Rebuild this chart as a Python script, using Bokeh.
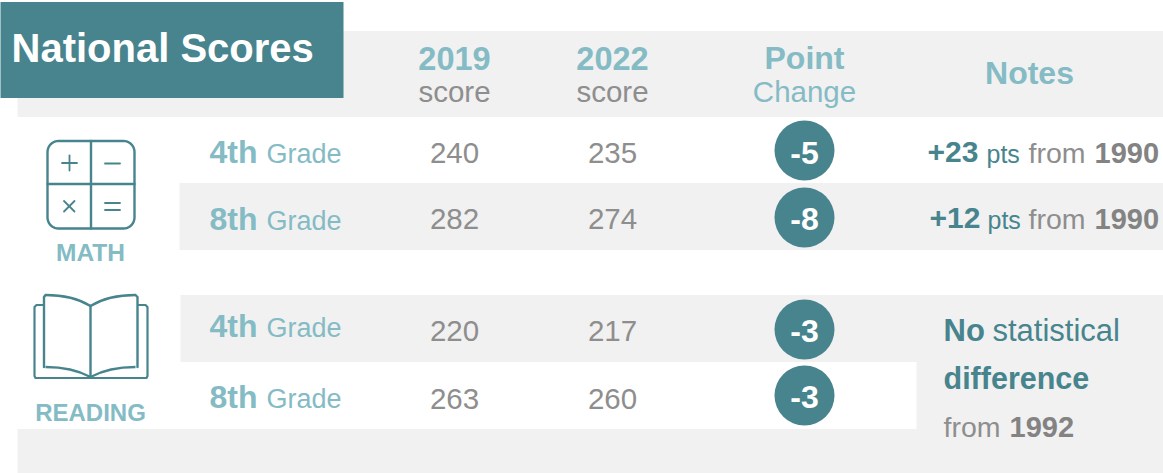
from bokeh.plotting import figure
from bokeh.models import Range1d
from bokeh.core.properties import value
from bokeh.embed import file_html
from bokeh.resources import INLINE
import numpy as np

# ---- data ----
subjects = ["MATH", "READING"]
grades = ["4th", "8th", "4th", "8th"]
score_2019 = [240, 282, 220, 263]
score_2022 = [235, 274, 217, 260]
point_change = [-5, -8, -3, -3]
notes_gain = ["+23", "+12"]
notes_year = ["1990", "1990"]
title = "National Scores"

# ---- layout ----
TEAL, LIGHT, GREY, GREYB, BG = "#47848E", "#84BBC4", "#8E8E8E", "#838383", "#F1F1F1"
FONT = "Liberation Sans"
grade_base = [164, 231, 338, 409]
score_base = [164, 230, 342, 410]
label_base = [165, 231, 343, 409]
note_base = [163, 229]
row_mid = [150.5, 217.5, 329.5, 395.5]

p = figure(width=1163, height=473, output_backend="svg", toolbar_location=None,
           x_range=Range1d(1, 1164), y_range=Range1d(473.5, 0.5), min_border=0,
           outline_line_color=None)
p.axis.visible = False
p.grid.visible = False
p.background_fill_color = "white"


def band(l, r, t, b, c):
    p.quad(left=l, right=r, top=t, bottom=b, fill_color=c, line_color=None)


band(18, 1170, 31, 117, BG)
band(180, 1170, 183, 250, BG)
band(181, 1170, 295, 362, BG)
band(917, 1170, 362, 429, BG)
band(18, 1170, 429, 480, BG)
band(-5, 344, 2, 98, TEAL)


def txt(x, y, s, size, color, bold=False, align="left"):
    p.text(x=[x], y=[y - 0.36 * size], text=[s], text_font=value(FONT),
           text_font_size=f"{size}px", text_color=color, text_align=align,
           text_baseline="alphabetic", text_font_style="bold" if bold else "normal")


txt(12, 62, title, 40, "white", True)
txt(455, 70, "2019", 32.5, LIGHT, True, "center")
txt(455, 102, "score", 29.5, GREY, False, "center")
txt(613, 70, "2022", 32.5, LIGHT, True, "center")
txt(613, 102, "score", 29.5, GREY, False, "center")
txt(805, 70, "Point", 32, LIGHT, True, "center")
txt(805, 102, "Change", 29.5, LIGHT, False, "center")
txt(1030, 85, "Notes", 32, LIGHT, True, "center")

for i in range(4):
    txt(210, grade_base[i], grades[i], 32, LIGHT, True)
    txt(267, grade_base[i], "Grade", 27, LIGHT)
    txt(455, score_base[i], str(score_2019[i]), 29.5, GREY, False, "center")
    txt(613, score_base[i], str(score_2022[i]), 29.5, GREY, False, "center")

p.circle(x=[805] * 4, y=row_mid, radius=30, fill_color=TEAL, line_color=None)
for i in range(4):
    txt(805, label_base[i], str(point_change[i]), 32, "white", True, "center")

for i, (g, yr, gx, px) in enumerate(zip(notes_gain, notes_year, [928, 930], [987, 988])):
    txt(gx, note_base[i], g, 30, TEAL, True)
    txt(px, note_base[i], "pts", 25, TEAL)
    txt(1029, note_base[i], "from", 28.5, GREY)
    txt(1095, note_base[i], yr, 29, GREYB, True)

txt(944, 342, "No", 31, TEAL, True)
txt(993, 342, "statistical", 31, TEAL)
txt(944, 389, "difference", 30.5, TEAL, True)
txt(944, 437, "from", 28.5, GREY)
txt(1010, 437, "1992", 29, GREYB, True)

txt(91, 261, subjects[0], 24.5, LIGHT, True, "center")
txt(91, 421, subjects[1], 24, LIGHT, True, "center")


# ---- icons ----
def line(xs, ys, w=2.2):
    p.line(xs, ys, line_color=TEAL, line_width=w, line_cap="round", line_join="round")


def round_rect(l, r, t, b, rad):
    a = np.linspace(0, np.pi / 2, 10)
    xs = np.r_[r - rad + rad * np.sin(a), r - rad + rad * np.cos(a),
               l + rad - rad * np.sin(a), l + rad - rad * np.cos(a), r - rad]
    ys = np.r_[t + rad - rad * np.cos(a), b - rad + rad * np.sin(a),
               b - rad + rad * np.cos(a), t + rad - rad * np.sin(a), t]
    return xs, ys


xs, ys = round_rect(48, 135, 141, 228.5, 11)
line(xs, ys, 2.4)
line([91.5, 91.5], [141, 228.5], 2.4)
line([48, 135], [184, 184], 2.4)
line([62.5, 77.5], [163, 163], 1.8)
line([70, 70], [155.5, 170.5], 1.8)
line([105.5, 120.5], [163.5, 163.5], 1.8)
line([64.5, 75], [201, 211.5], 1.8)
line([64.5, 75], [211.5, 201], 1.8)
line([105.5, 120.5], [203, 203], 1.8)
line([105.5, 120.5], [210, 210], 1.8)

# book pages
p.bezier(x0=[91, 91], y0=[306, 306], x1=[46, 136], y1=[295, 295],
         cx0=[78, 104], cy0=[298, 298], cx1=[60, 122], cy1=[295, 295],
         line_color=TEAL, line_width=2.4)
p.bezier(x0=[91, 91], y0=[377, 377], x1=[46, 136], y1=[367, 367],
         cx0=[78, 104], cy0=[370, 370], cx1=[60, 122], cy1=[367, 367],
         line_color=TEAL, line_width=2.4)
line([44.5, 44.5, 46], [367, 297, 295], 2.4)
line([138, 138, 136], [367, 297, 295], 2.4)
line([91, 91], [306, 377], 2.4)
# cover
line([44, 37, 35, 35, 36, 91, 147, 148, 148, 146, 139],
     [305, 305, 307, 376, 378, 378, 378, 376, 307, 305, 305], 2.2)

open("out.html", "w").write(file_html(p, INLINE))
